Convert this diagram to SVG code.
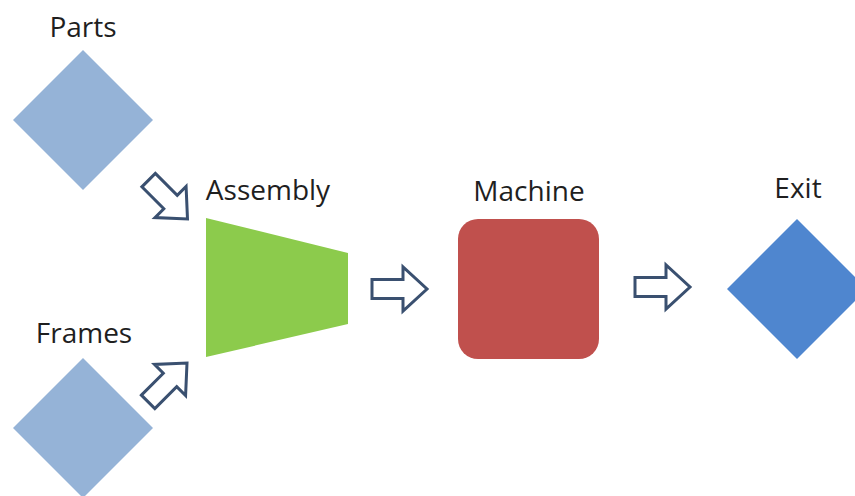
<svg xmlns="http://www.w3.org/2000/svg" width="855" height="496" viewBox="0 0 855 496">
  <defs>
    <style>
      .lbl { font-family: "Open Sans", "Liberation Sans", sans-serif; font-size: 28px; fill: #1F1F1F; text-anchor: middle; }
      .src { fill: #95B3D7; }
      .arr { fill: #FFFFFF; stroke: #3A5070; stroke-width: 3; stroke-linejoin: miter; }
    </style>
    <polygon id="blockArrow" points="-55,-9.5 -24,-9.5 -24,-22 0,0 -24,22 -24,9.5 -55,9.5"/>
  </defs>
  <rect width="855" height="496" fill="#FFFFFF"/>

  <g id="parts">
    <polygon class="src" points="83,50 153,120 83,190 13,120"/>
    <text class="lbl" x="83" y="37">Parts</text>
  </g>

  <g id="frames">
    <polygon class="src" points="83,358 153,428 83,498 13,428"/>
    <text class="lbl" x="84" y="343">Frames</text>
  </g>

  <g id="assembly">
    <polygon fill="#8CCB4C" points="206,218 348,253 348,324 206,357"/>
    <text class="lbl" x="268" y="200">Assembly</text>
  </g>

  <g id="machine">
    <rect x="458" y="219" width="141" height="140" rx="20" ry="20" fill="#C0504D"/>
    <text class="lbl" x="529" y="201">Machine</text>
  </g>

  <g id="exit">
    <polygon fill="#4F86CF" points="797,219 867,289 797,359 727,289"/>
    <text class="lbl" x="798" y="198">Exit</text>
  </g>

  <g id="connectors">
    <use href="#blockArrow" class="arr" transform="translate(187.5,219) rotate(45)"/>
    <use href="#blockArrow" class="arr" transform="translate(187,363) rotate(-45)"/>
    <use href="#blockArrow" class="arr" transform="translate(427,289)"/>
    <use href="#blockArrow" class="arr" transform="translate(690,287)"/>
  </g>
</svg>
